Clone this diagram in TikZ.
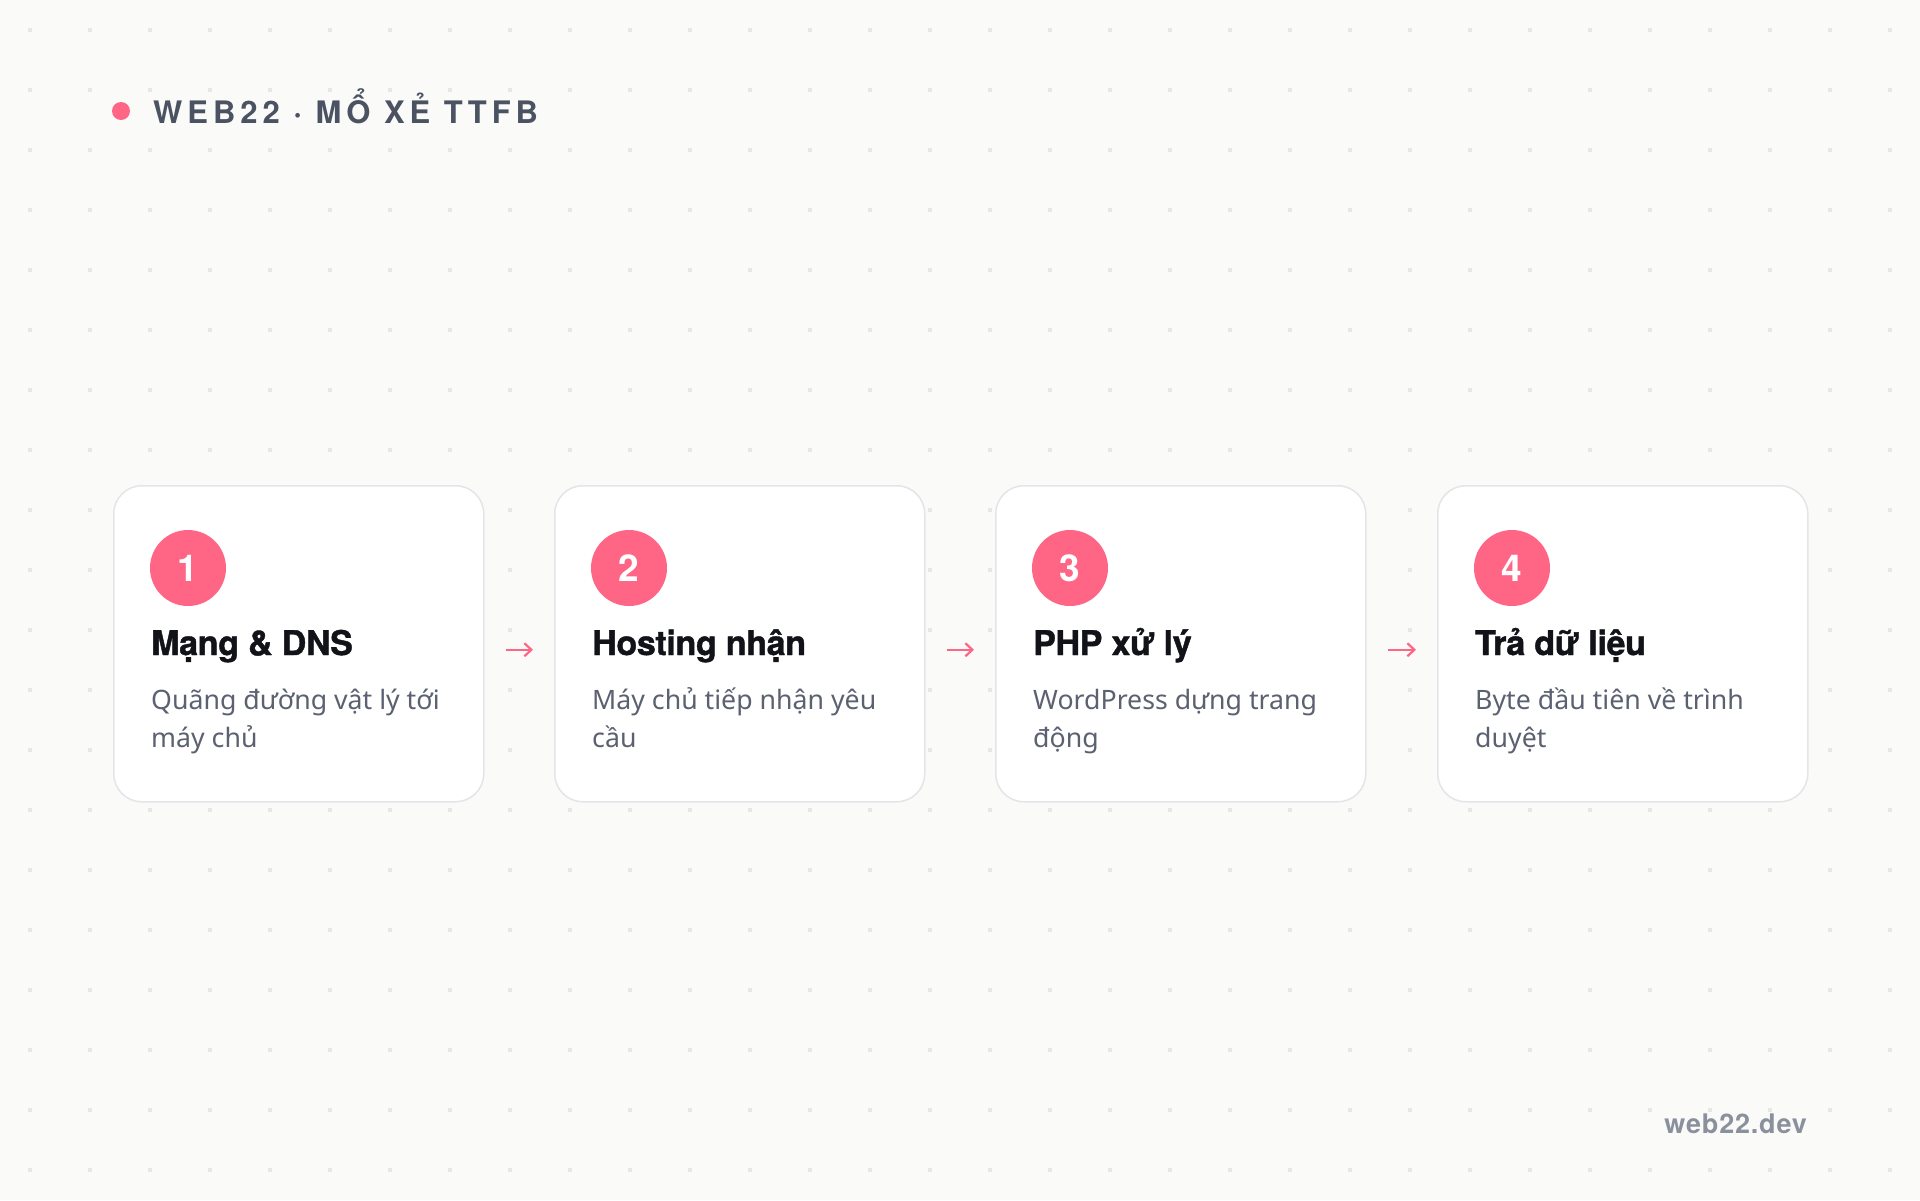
\documentclass[tikz,border=0pt]{standalone}
\usepackage{fontspec}
\setmainfont{Noto Sans}
\newfontfamily\boldsans{TeX Gyre Heros}
\newfontfamily\titlefont[LetterSpace=-1.0,FakeBold=1.2]{TeX Gyre Heros}
\newfontfamily\headfont[LetterSpace=16.0]{TeX Gyre Heros}
\newfontfamily\footfont[LetterSpace=3.0]{TeX Gyre Heros}
\usetikzlibrary{arrows.meta,calc}
\definecolor{bgc}{HTML}{FAFAF9}
\definecolor{dotc}{HTML}{E7E7E5}
\definecolor{pinkc}{HTML}{FF6584}
\definecolor{borderc}{HTML}{E4E5E8}
\definecolor{titlec}{HTML}{111318}
\definecolor{descc}{HTML}{5B6170}
\definecolor{headc}{HTML}{4B5363}
\definecolor{footc}{HTML}{8A909C}
\tikzset{
  x=1pt,y=-1pt,
  card/.style={draw=borderc,line width=1.5pt,fill=white,rounded corners=28pt,
    minimum width=370pt,minimum height=316pt,anchor=north west,inner sep=0pt},
  badge/.style={circle,fill=pinkc,minimum size=76pt,inner sep=0pt,text=white,
    font=\boldsans\fontsize{37}{40}\selectfont\bfseries},
  ctitle/.style={anchor=base west,inner sep=0pt,text=titlec,
    font=\titlefont\fontsize{34}{40}\selectfont\bfseries},
  cdesc/.style={anchor=base west,inner sep=0pt,text=descc,
    font=\fontsize{26.7}{38}\selectfont},
  flow/.style={draw=pinkc,line width=2.2pt,-{Straight Barb[length=7pt,width=13pt]},
    shorten <=21pt,shorten >=21pt},
}
\begin{document}
\begin{tikzpicture}
\fill[bgc] (0,0) rectangle (1920,1200);
\useasboundingbox (0,0) rectangle (1920,1200);
% dot grid
\foreach \gx in {30,90,...,1890}{
  \foreach \gy in {30,90,...,1170}{
    \fill[dotc] (\gx-2,\gy-2) rectangle (\gx+2,\gy+2);
  }
}
% header
\fill[pinkc] (121,111) circle (9);
\node[anchor=base west,inner sep=0pt,text=headc,font=\headfont\fontsize{31}{36}\selectfont\bfseries] (head) at (153,123) {WEB22 · MỔ XẺ TTFB};
% cards
\foreach \i/\cx/\ttl/\la/\lb in {
  1/113/{Mạng \& DNS}/{Quãng đường vật lý tới}/{máy chủ},
  2/554/{Hosting nhận}/{Máy chủ tiếp nhận yêu}/{cầu},
  3/995/{PHP xử lý}/{WordPress dựng trang}/{động},
  4/1437/{Trả dữ liệu}/{Byte đầu tiên về trình}/{duyệt}}{
  \node[card] (c\i) at (\cx,485) {};
  \node[badge] (n\i) at (\cx+75,568) {\i};
  \node[ctitle] (t\i) at (\cx+38,655) {\ttl};
  \node[cdesc] (da\i) at (\cx+38,709) {\la};
  \node[cdesc] (db\i) at (\cx+38,747) {\lb};
}
% connectors
\foreach \a/\b in {1/2,2/3,3/4}{
  \draw[flow] ([yshift=-6pt]c\a.east) -- ([yshift=-6pt]c\b.west);
}
% footer
\node[anchor=base east,inner sep=0pt,text=footc,font=\footfont\fontsize{27}{30}\selectfont\bfseries] (foot) at (1807,1133) {web22.dev};
\end{tikzpicture}
\end{document}
